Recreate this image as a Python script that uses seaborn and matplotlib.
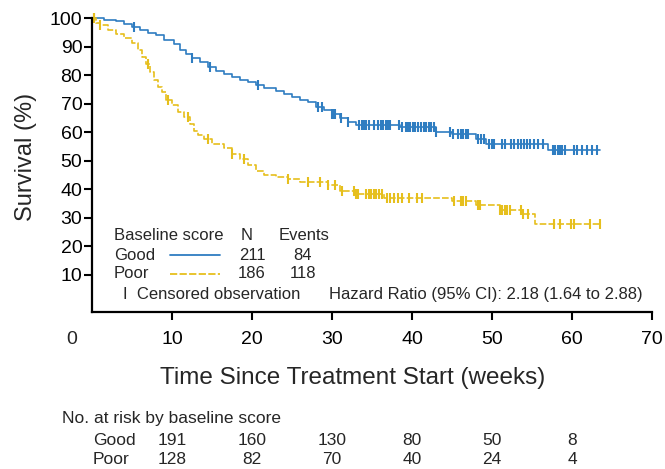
import numpy as np
import pandas as pd
import matplotlib
matplotlib.use('Agg')
import matplotlib.pyplot as plt
import matplotlib.transforms as mtransforms
import seaborn as sns
from matplotlib import font_manager

# Kaplan-Meier steps (time in weeks, survival in %)
good_t = [0, 1.5, 3, 4, 5, 6, 7, 8, 9, 10.3, 11, 11.8, 12.5, 13.5, 14.5, 15.5, 16.5, 17.5,
          18.5, 19.5, 20.5, 21.5, 23, 24, 25, 26, 27, 28, 29, 30, 31, 32, 33, 38.5, 43, 45,
          48, 49.3, 57]
good_s = [100, 99.5, 99, 98, 97, 96, 95, 94, 92.5, 91, 89, 87.5, 86, 84.5, 83, 81.5, 80.5, 79.5,
          78.5, 77.5, 76.5, 75.5, 74.5, 73.5, 72.5, 71.5, 70.5, 69, 68, 66.5, 65, 63.5, 62.5, 62,
          60, 59.3, 57.5, 56, 53.8]
poor_t = [0, 0.5, 1, 2, 3, 4, 5, 5.8, 6.3, 6.8, 7.3, 7.8, 8.3, 8.8, 9.3, 10, 10.8, 11.5, 12.2,
          12.8, 13.3, 14, 15, 16.5, 17.5, 18.5, 19.5, 20.5, 21.5, 23, 24.5, 26, 29.5, 31, 33,
          36.5, 45, 48, 51, 53.8, 55.4]
poor_s = [100, 98.5, 97.5, 96, 94.5, 93, 91.5, 89, 86.5, 84, 81, 78.5, 76, 74, 71.5, 69.5, 67,
          65.5, 63, 60.5, 59, 57.5, 56, 54.5, 52.5, 50.5, 48.5, 46.5, 45.2, 44.5, 43.5, 42.5,
          41.5, 39.5, 38.5, 37, 36, 34.5, 32.8, 31.2, 28]
end_time = 63.5

good_cens = [0.3, 5.2, 12.5, 14.8, 20.8, 28.3, 28.8, 30.0, 30.2, 30.4, 31.1, 32.0, 33.4, 33.7,
             34.0, 34.3, 34.6, 35.2, 35.8, 36.1, 36.4, 36.7, 37.0, 37.3, 38.4, 38.8, 39.2, 39.5,
             39.8, 40.1, 40.4, 40.8, 41.1, 41.5, 41.8, 42.1, 42.4, 42.7, 43.0, 44.7, 45.1, 45.8,
             46.1, 46.4, 46.7, 47.0, 48.3, 48.6, 49.0, 49.6, 50.0, 50.3, 51.2, 51.6, 52.4, 52.8,
             53.3, 53.6, 54.0, 54.4, 54.8, 55.2, 55.8, 56.4, 57.6, 57.9, 58.2, 58.5, 58.8, 59.1,
             60.2, 60.6, 61.3, 61.9, 62.5, 63.1]
poor_cens = [0.3, 1.0, 7.0, 9.5, 12.0, 14.5, 17.5, 19.0, 24.5, 27.0, 28.5, 29.5, 30.4, 31.2,
             32.7, 33.0, 33.3, 34.3, 34.6, 34.9, 35.2, 35.5, 35.9, 36.3, 36.9, 37.3, 37.8, 38.2,
             38.8, 39.6, 40.6, 41.3, 45.3, 46.1, 46.4, 46.7, 48.2, 48.5, 51.0, 51.3, 51.6, 51.9,
             52.3, 53.6, 53.9, 54.5, 57.7, 58.5, 59.9, 60.3, 62.2, 63.5]

groups = ['Good', 'Poor']
n_patients = [211, 186]
n_events = [84, 118]
risk_times = [10, 20, 30, 40, 50, 60]
risk_good = [191, 160, 130, 80, 50, 8]
risk_poor = [128, 82, 70, 40, 24, 4]
y_ticks = [10, 20, 30, 40, 50, 60, 70, 80, 90, 100]
x_ticks = [10, 20, 30, 40, 50, 60, 70]
hr_text = 'Hazard Ratio (95% CI): 2.18 (1.64 to 2.88)'

blue = '#2f7dc1'
yellow = '#e6bf1d'

sns.set_style('ticks')
plt.rcParams['font.family'] = ['Liberation Sans', 'DejaVu Sans']

names = {f.name for f in font_manager.fontManager.ttflist}
if 'Liberation Sans Narrow' in names:
    title_font, title_size = 'Liberation Sans Narrow', 21
else:
    title_font, title_size = 'Liberation Sans', 17.5

W, H = 665, 469


def px(x, y):
    return x / W, 1 - y / H


# build a long table for seaborn (steps need a final point at the end)
rows = []
for g, ts, ss in [('Good', good_t, good_s), ('Poor', poor_t, poor_s)]:
    for t, s in zip(ts + [end_time], ss + [ss[-1]]):
        rows.append((g, t, s))
df = pd.DataFrame(rows, columns=['group', 'time', 'surv'])

fig = plt.figure(figsize=(W / 100, H / 100), dpi=100)
ax = fig.add_axes([92 / W, 1 - 311.7 / H, (652 - 92) / W, (311.7 - 18.3) / H])

sns.lineplot(data=df, x='time', y='surv', hue='group', style='group',
             palette={'Good': blue, 'Poor': yellow},
             dashes={'Good': '', 'Poor': (4, 1.3)},
             drawstyle='steps-post', estimator=None, sort=False,
             linewidth=1.2, legend=False, ax=ax, clip_on=False)


def surv_at(ts, ss, c):
    idx = np.searchsorted(ts, c, side='right') - 1
    return np.asarray(ss)[idx]


ax.plot(good_cens, surv_at(good_t, good_s, good_cens), ls='none', marker='|',
        ms=7, mew=1.5, color=blue, clip_on=False)
ax.plot(poor_cens, surv_at(poor_t, poor_s, poor_cens), ls='none', marker='|',
        ms=7, mew=1.5, color=yellow, clip_on=False)

ax.set_xlim(0, 70)
ax.set_ylim(-2.9, 100)
ax.set_xticks(x_ticks)
ax.set_yticks(y_ticks)
ax.tick_params(axis='both', direction='out', length=6, width=1.5, labelsize=14, colors='black')
ax.tick_params(axis='x', pad=8)
ax.tick_params(axis='y', pad=1)
for side in ['top', 'right']:
    ax.spines[side].set_visible(False)
for side in ['left', 'bottom']:
    ax.spines[side].set_linewidth(1.6)
    ax.spines[side].set_color('black')
ax.set_xlabel('')
ax.set_ylabel('')

fig.text(*px(72, 339), '0', fontsize=14, ha='center', va='center')
fig.text(*px(26, 157), 'Survival (%)', fontsize=17, rotation=90, ha='center', va='center')
fig.text(*px(353, 378), 'Time Since Treatment Start (weeks)', fontsize=title_size,
         family=[title_font, 'DejaVu Sans'], ha='center', va='center')

# legend block inside the axes
fs = 12
fig.text(*px(114, 235), 'Baseline score', fontsize=fs, ha='left', va='center')
fig.text(*px(247, 235), 'N', fontsize=fs, ha='center', va='center')
fig.text(*px(304, 235), 'Events', fontsize=fs, ha='center', va='center')
for i, (g, n, e, c, ls) in enumerate(zip(groups, n_patients, n_events, [blue, yellow],
                                        ['-', (0, (4, 1.3))])):
    y = 255 + i * 19
    fig.text(*px(114, y), g, fontsize=fs, ha='left', va='center')
    fig.add_artist(plt.Line2D([170 / W, 220 / W], [1 - y / H, 1 - y / H], color=c,
                              lw=1.3, ls=ls, transform=fig.transFigure))
    fig.text(*px(252, y), str(n), fontsize=fs, ha='center', va='center')
    fig.text(*px(303, y), str(e), fontsize=fs, ha='center', va='center')
fig.text(*px(123, 294), 'I  Censored observation', fontsize=fs, ha='left', va='center')
fig.text(*px(643, 294), hr_text, fontsize=fs, ha='right', va='center')

# number at risk table
tfs = 12.5
fig.text(*px(62, 418), 'No. at risk by baseline score', fontsize=tfs, ha='left', va='center')
trans = mtransforms.blended_transform_factory(ax.transData, fig.transFigure)
for g, vals, y in [('Good', risk_good, 440), ('Poor', risk_poor, 459)]:
    fig.text(*px(93, y), g, fontsize=tfs, ha='left', va='center')
    for t, v in zip(risk_times, vals):
        ax.text(t, 1 - y / H, str(v), fontsize=tfs, ha='center', va='center', transform=trans)

fig.savefig('out.png', dpi=100)
